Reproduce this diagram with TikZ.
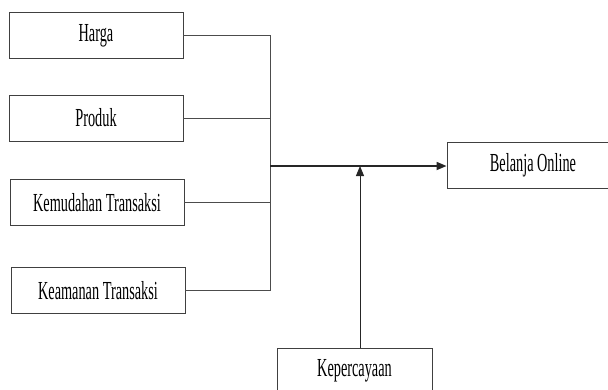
\documentclass[tikz,border=0pt]{standalone}
\usepackage{fontspec}
\setmainfont{Liberation Serif}[FakeStretch=0.55]
\usetikzlibrary{arrows.meta}

\begin{document}
\begin{tikzpicture}
  [x=1pt,y=-1pt,
   every node/.style={draw=black!75, line width=0.9pt, rectangle, fill=white,
     minimum width=174pt, minimum height=46pt, inner sep=0pt,
     font=\fontsize{26}{26}\selectfont},
   link/.style={draw=black!70, line width=0.9pt},
   arrowlink/.style={draw=black!85, line width=1pt, -{Triangle[length=10pt,width=8pt]}}]
  \useasboundingbox (0,0) rectangle (608,389);
  \clip (0,0) rectangle (608,389);

  \node (harga) at (96,35.5) {Harga};
  \node (produk) at (96,118) {Produk};
  \node (kemudahan) at (97,202.5) {Kemudahan Transaksi};
  \node (keamanan) at (98,290.5) {Keamanan Transaksi};
  \node[minimum width=172pt] (belanja) at (533,165) {Belanja Online};
  \node[minimum width=155pt] (kepercayaan) at (354.5,371) {Kepercayaan};

  \coordinate (junction) at (270,166);

  \foreach \from in {harga,produk,kemudahan,keamanan}
    \draw[link] (\from.east) -| (junction);
  \draw[arrowlink, line width=1.7pt] (junction) -- (junction -| belanja.west);
  \draw[arrowlink] ([xshift=5.5pt]kepercayaan.north) -- ([xshift=5.5pt]kepercayaan.north |- junction);
\end{tikzpicture}
\end{document}
